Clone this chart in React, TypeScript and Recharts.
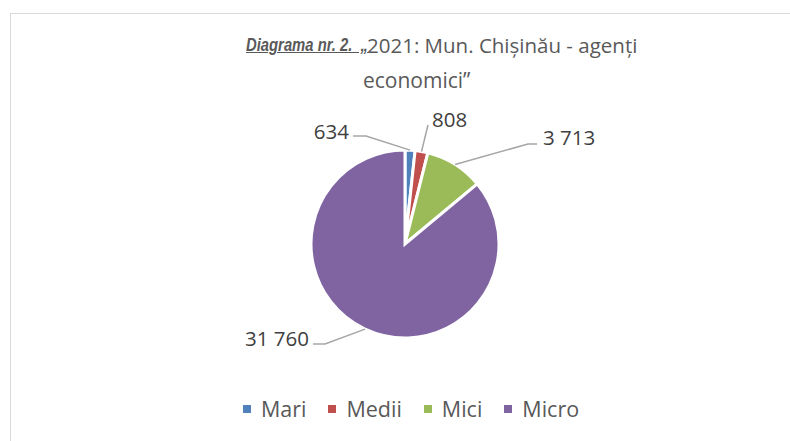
import { Cell, Legend, Pie, PieChart } from 'recharts';

const categories = ['Mari', 'Medii', 'Mici', 'Micro'];
const values = [634, 808, 3713, 31760];
const valueLabels = ['634', '808', '3 713', '31 760'];
const sliceColors = ['#4f81bd', '#c0504d', '#9bbb59', '#8064a2'];

const data = categories.map((name, i) => ({ name, value: values[i], label: valueLabels[i] }));

// leader line layout, relative to pie centre (Excel "best fit" placement)
const LABEL_LAYOUT = [
  { elbow: [-39, -108], end: [-52, -108], text: [-56, -113], anchor: 'end' },
  { elbow: null, end: [23, -119], text: [27, -125], anchor: 'start' },
  { elbow: [123, -100], end: [132, -100], text: [138, -107], anchor: 'start' },
  { elbow: [-80, 100], end: [-92, 100], text: [-96, 94], anchor: 'end' },
];

const FONT = '"Open Sans", "Noto Sans", sans-serif';
const RAD = Math.PI / 180;

function renderLabel(props: any) {
  const { cx, cy, midAngle, outerRadius, index } = props;
  const lay = LABEL_LAYOUT[index];
  const sx = cx + outerRadius * Math.cos(-midAngle * RAD);
  const sy = cy + outerRadius * Math.sin(-midAngle * RAD);
  const pts = [[sx, sy]];
  if (lay.elbow) pts.push([cx + lay.elbow[0], cy + lay.elbow[1]]);
  pts.push([cx + lay.end[0], cy + lay.end[1]]);
  return (
    <g key={`lbl-${index}`}>
      <polyline points={pts.map((p) => p.join(',')).join(' ')} fill="none" stroke="#a6a6a6" strokeWidth={1.5} />
      <text
        x={cx + lay.text[0]}
        y={cy + lay.text[1]}
        textAnchor={lay.anchor as any}
        dominantBaseline="central"
        fill="#404040"
        fontSize={20.5}
        fontFamily={FONT}
      >
        {data[index].label}
      </text>
    </g>
  );
}

function LegendContent({ payload }: any) {
  return (
    <div style={{ display: 'flex', justifyContent: 'center', paddingLeft: 32, fontFamily: FONT, fontSize: 21.5, lineHeight: '26px', color: '#595959' }}>
      {(payload || []).map((p: any, i: number) => (
        <div key={p.value} style={{ display: 'flex', alignItems: 'center', marginLeft: i === 0 ? 0 : 22 }}>
          <span style={{ width: 8, height: 8, background: p.color, marginRight: 10, display: 'inline-block' }} />
          <span>{p.value}</span>
        </div>
      ))}
    </div>
  );
}

export default function App() {
  const titleStyle: React.CSSProperties = {
    position: 'absolute',
    fontFamily: FONT,
    fontSize: 20.5,
    lineHeight: '26px',
    color: '#595959',
    whiteSpace: 'nowrap',
  };
  return (
    <div style={{ position: 'absolute', left: 0, top: 0, width: 790, height: 441, overflow: 'hidden', background: '#fff' }}>
      <div style={{ position: 'absolute', left: 10, top: 13, width: 800, height: 450, border: '1.5px solid #d9d9d9' }} />
      {/* Calibri bold italic is much narrower than the fallback fonts, so squeeze it */}
      <div
        style={{
          ...titleStyle,
          left: 246,
          top: 32,
          fontFamily: '"Liberation Sans", sans-serif',
          fontWeight: 700,
          fontStyle: 'italic',
          textDecoration: 'underline',
          fontSize: 19,
          transform: 'scaleX(0.78)',
          transformOrigin: 'left center',
        }}
      >
        Diagrama nr. 2.&nbsp; „
      </div>
      <div style={{ ...titleStyle, left: 367, top: 32 }}>2021: Mun. Chișinău - agenți</div>
      <div style={{ ...titleStyle, left: 363, top: 67, fontSize: 21 }}>economici”</div>
      <div style={{ position: 'absolute', left: 0, top: 0 }}>
        <PieChart width={790} height={441} margin={{ top: 0, right: 0, bottom: 0, left: 0 }}>
          <Pie
            data={data}
            dataKey="value"
            nameKey="name"
            cx={405}
            cy={244}
            outerRadius={94}
            startAngle={90}
            endAngle={-270}
            stroke="#ffffff"
            strokeWidth={3}
            label={renderLabel}
            labelLine={false}
            isAnimationActive={false}
          >
            {data.map((d, i) => (
              <Cell key={d.name} fill={sliceColors[i]} />
            ))}
          </Pie>
          <Legend
            content={<LegendContent />}
            wrapperStyle={{ position: 'absolute', top: 396, left: 0, width: 790 }}
          />
        </PieChart>
      </div>
    </div>
  );
}
